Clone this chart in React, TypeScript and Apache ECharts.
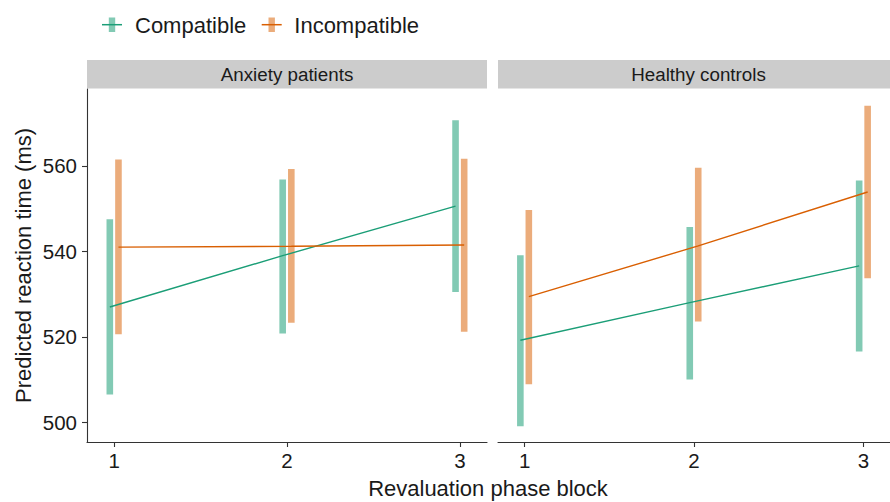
import React, { useEffect, useRef } from "react";
import * as echarts from "echarts";

// ---- data ----
const blocks = [1, 2, 3];
const groups = ["Anxiety patients", "Healthy controls"];
const conditions = ["Compatible", "Incompatible"];
const yTicks = [500, 520, 540, 560];

// Anxiety patients
const anxCompatFit = [527.0, 539.0, 550.6];
const anxCompatLow = [506.5, 520.8, 530.5];
const anxCompatHigh = [547.5, 556.8, 570.7];
const anxIncompatFit = [541.0, 541.2, 541.5];
const anxIncompatLow = [520.6, 523.3, 521.2];
const anxIncompatHigh = [561.5, 559.3, 561.7];

// Healthy controls
const hcCompatFit = [519.2, 528.0, 536.6];
const hcCompatLow = [499.1, 510.0, 516.6];
const hcCompatHigh = [539.1, 545.7, 556.6];
const hcIncompatFit = [529.4, 541.3, 553.9];
const hcIncompatLow = [508.9, 523.6, 533.7];
const hcIncompatHigh = [549.7, 559.6, 574.1];

const FONT = "'Liberation Sans', Arial, Helvetica, sans-serif";
const lineColors = ["#1b9e77", "#d95f02"];
const barColors = ["rgba(27,158,119,0.55)", "rgba(217,95,2,0.52)"];
const dodge = [-0.025, 0.025];

const panelData = [
  [
    { fit: anxCompatFit, low: anxCompatLow, high: anxCompatHigh },
    { fit: anxIncompatFit, low: anxIncompatLow, high: anxIncompatHigh },
  ],
  [
    { fit: hcCompatFit, low: hcCompatLow, high: hcCompatHigh },
    { fit: hcIncompatFit, low: hcIncompatLow, high: hcIncompatHigh },
  ],
];

const X_MIN = 0.843;
const X_MAX = 3.157;
const Y_MIN = 495.4;
const Y_MAX = 578.0;

export default function App() {
  const ref = useRef<HTMLDivElement>(null);

  useEffect(() => {
    if (!ref.current) return;
    const chart = echarts.init(ref.current, null, { renderer: "svg" });

    const grids = [
      { left: 87, top: 89, width: 400, height: 353 },
      { left: 498, top: 89, width: 401, height: 353 },
    ];

    const xAxes = grids.map((_, gi) => ({
      type: "value",
      gridIndex: gi,
      min: X_MIN,
      max: X_MAX,
      axisLine: { show: true, lineStyle: { color: "#333", width: 1.1 } },
      axisTick: {
        show: true,
        length: 5,
        lineStyle: { color: "#333", width: 1.1 },
        customValues: blocks,
      },
      axisLabel: {
        show: true,
        customValues: blocks,
        margin: 8,
        color: "#1a1a1a",
        fontSize: 20.5,
        fontFamily: FONT,
      },
      splitLine: { show: false },
    }));

    const yAxes = grids.map((_, gi) => ({
      type: "value",
      gridIndex: gi,
      min: Y_MIN,
      max: Y_MAX,
      name: gi === 0 ? "Predicted reaction time (ms)" : "",
      nameLocation: "middle",
      nameGap: 53,
      nameTextStyle: { fontSize: 22, color: "#1a1a1a", fontFamily: FONT },
      axisLine: { show: gi === 0, lineStyle: { color: "#333", width: 1.1 } },
      axisTick: {
        show: gi === 0,
        length: 5,
        lineStyle: { color: "#333", width: 1.1 },
        customValues: yTicks,
      },
      axisLabel: {
        show: gi === 0,
        customValues: yTicks,
        margin: 10,
        color: "#1a1a1a",
        fontSize: 20.5,
        fontFamily: FONT,
      },
      splitLine: { show: false },
    }));

    const series: any[] = [];
    panelData.forEach((panel, gi) => {
      panel.forEach((cond, ci) => {
        series.push({
          name: conditions[ci],
          type: "custom",
          xAxisIndex: gi,
          yAxisIndex: gi,
          z: 2,
          encode: { x: 0, y: [1, 2] },
          data: blocks.map((b, i) => [b + dodge[ci], cond.low[i], cond.high[i]]),
          renderItem: (params: any, api: any) => {
            const x = api.value(0);
            const lo = api.coord([x, api.value(1)]);
            const hi = api.coord([x, api.value(2)]);
            return {
              type: "rect",
              shape: { x: lo[0] - 3.3, y: hi[1], width: 6.6, height: lo[1] - hi[1] },
              style: { fill: barColors[ci] },
            };
          },
        });
      });
      panel.forEach((cond, ci) => {
        series.push({
          name: conditions[ci],
          type: "line",
          xAxisIndex: gi,
          yAxisIndex: gi,
          z: 5,
          symbol: "none",
          lineStyle: { color: lineColors[ci], width: 1.4 },
          itemStyle: { color: lineColors[ci] },
          data: blocks.map((b, i) => [b + dodge[ci], cond.fit[i]]),
        });
      });
    });

    const legendKey = (cx: number, ci: number) => [
      {
        type: "rect",
        shape: { x: cx - 3.2, y: 17.5, width: 6.4, height: 14.5 },
        style: { fill: barColors[ci] },
        z: 10,
      },
      {
        type: "line",
        shape: { x1: cx - 10, y1: 24.7, x2: cx + 10, y2: 24.7 },
        style: { stroke: lineColors[ci], lineWidth: 1.5 },
        z: 11,
      },
    ];

    const graphic: any[] = [
      { type: "rect", shape: { x: 87, y: 60, width: 400, height: 28.5 }, style: { fill: "#cccccc" } },
      { type: "rect", shape: { x: 498, y: 60, width: 401, height: 28.5 }, style: { fill: "#cccccc" } },
      {
        type: "text",
        x: 287,
        y: 74.5,
        style: {
          text: groups[0],
          fontSize: 18.8,
          fontFamily: FONT,
          fill: "#1a1a1a",
          textAlign: "center",
          textVerticalAlign: "middle",
        },
      },
      {
        type: "text",
        x: 698.5,
        y: 74.5,
        style: {
          text: groups[1],
          fontSize: 18.8,
          fontFamily: FONT,
          fill: "#1a1a1a",
          textAlign: "center",
          textVerticalAlign: "middle",
        },
      },
      {
        type: "text",
        x: 488,
        y: 488,
        style: {
          text: "Revaluation phase block",
          fontSize: 22,
          fontFamily: FONT,
          fill: "#1a1a1a",
          textAlign: "center",
          textVerticalAlign: "middle",
        },
      },
      ...legendKey(112, 0),
      ...legendKey(271.7, 1),
    ];

    chart.setOption({
      animation: false,
      backgroundColor: "#ffffff",
      grid: grids,
      xAxis: xAxes,
      yAxis: yAxes,
      legend: {
        show: true,
        left: 97,
        top: 9,
        itemWidth: 28,
        itemHeight: 20,
        itemGap: 15,
        icon: "rect",
        selectedMode: false,
        textStyle: { fontSize: 22, color: "#1a1a1a", fontFamily: FONT },
        data: conditions.map((c) => ({ name: c, itemStyle: { color: "rgba(0,0,0,0)", opacity: 0 } })),
      },
      graphic,
      series,
    });

    return () => chart.dispose();
  }, []);

  return (
    <div
      ref={ref}
      style={{ position: "absolute", left: 0, top: 0, width: 890, height: 502 }}
    />
  );
}
